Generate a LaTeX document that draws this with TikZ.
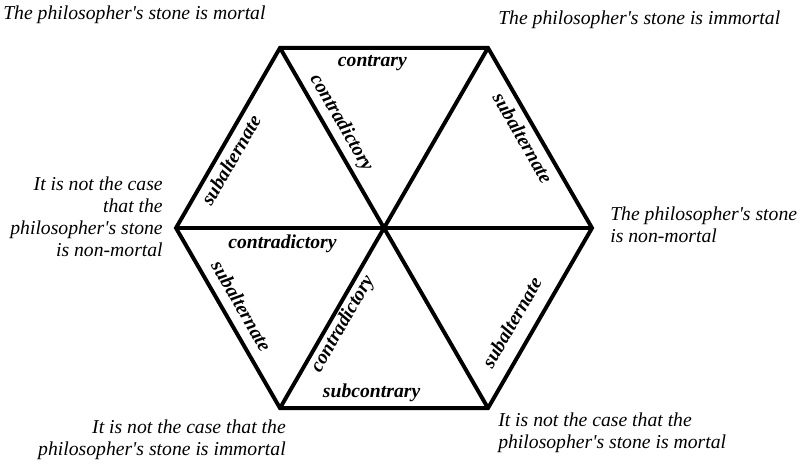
\documentclass[tikz,border=0pt]{standalone}
\usepackage{fontspec}
\setmainfont{Liberation Serif}
\newcommand{\apos}{\textquotesingle}
\tikzset{
  stmt/.style={inner sep=0pt,font=\fontsize{14}{15.6}\selectfont\itshape},
  rel/.style={inner sep=0pt,font=\fontsize{14}{15.6}\selectfont\bfseries\itshape},
  side/.style={line width=2.8pt}
}
\begin{document}
\begin{tikzpicture}
    \useasboundingbox (0,0) rectangle (20,11.6);
    \coordinate (c) at (9.6,5.9);
    \coordinate (tl) at (7.0,10.403);
    \coordinate (tr) at (12.2,10.403);
    \coordinate (r) at (14.8,5.9);
    \coordinate (br) at (12.2,1.397);
    \coordinate (bl) at (7.0,1.397);
    \coordinate (l) at (4.4,5.9);
    \draw[side] (tl) -- (tr) -- (r) -- (br) -- (bl) -- (l) -- cycle;
    \draw[side] (tl) -- (br);
    \draw[side] (tr) -- (bl);
    \draw[side] (l) -- (r);
    % relations
    \node[rel] (contrary) at (9.31,10.025) {contrary};
    \node[rel] (subcontrary) at (9.29,1.775) {subcontrary};
    \node[rel] (contrad1) at (7.06,5.5) {contradictory};
    \node[rel,rotate=-60] (contrad2) at (8.525,8.525) {contradictory};
    \node[rel,rotate=60] (contrad3) at (8.575,3.5) {contradictory};
    \node[rel,rotate=60] (sub1) at (5.77,7.6) {subalternate};
    \node[rel,rotate=-60] (sub2) at (13.075,8.15) {subalternate};
    \node[rel,rotate=-60] (sub3) at (6.04,3.95) {subalternate};
    \node[rel,rotate=60] (sub4) at (12.79,3.54) {subalternate};
    % statements
    \node[stmt,anchor=base west] (mortal) at (0.075,11.1) {The philosopher\apos s stone is mortal};
    \node[stmt,anchor=base west] (immortal) at (12.45,10.975) {The philosopher\apos s stone is immortal};
    \node[stmt,anchor=west,align=left] (nonmortal) at (15.25,5.975) {The philosopher\apos s stone\\is non-mortal};
    \node[stmt,anchor=east,align=right] (notnonmortal) at (4.075,6.175) {It is not the case\\that the\\philosopher\apos s stone\\is non-mortal};
    \node[stmt,anchor=east,align=right] (notimmortal) at (7.15,0.6) {It is not the case that the\\philosopher\apos s stone is immortal};
    \node[stmt,anchor=west,align=left] (notmortal) at (12.45,0.775) {It is not the case that the\\philosopher\apos s stone is mortal};
  \end{tikzpicture}
\end{document}
